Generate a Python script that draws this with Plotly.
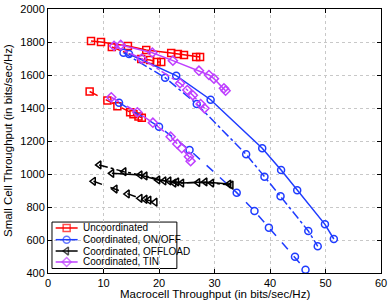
import plotly.graph_objects as go

# Uncoordinated (red squares)
unc_solid_x = [7.75, 9.55, 14.4, 17.7, 22.2, 23.4, 24.5, 26.7, 27.4]
unc_solid_y = [1806, 1800, 1776, 1752, 1733, 1727, 1721, 1709, 1709]
unc_dd_x = [11.5, 16.8, 18.4, 19.6, 20.4]
unc_dd_y = [1770, 1697, 1691, 1679, 1679]
unc_dash_x = [7.5, 10.7, 12.5, 14.8, 15.4, 16.3, 16.9]
unc_dash_y = [1500, 1445, 1410, 1374, 1362, 1349, 1341]

# Coordinated, ON/OFF (blue circles)
on_solid_x = [14.6, 23.1, 29.3, 38.6, 42.0, 44.9, 49.9, 51.5]
on_solid_y = [1727, 1596, 1450, 1156, 1024, 901, 695, 606]
on_dd_x = [13.6, 21.1, 26.8, 35.7, 39.0, 41.9, 46.9, 48.6]
on_dd_y = [1735, 1584, 1424, 1119, 984, 865, 655, 562]
on_dash_x = [12.8, 20.0, 25.5, 34.0, 37.2, 39.8, 44.5, 46.4]
on_dash_y = [1432, 1287, 1146, 887, 776, 675, 499, 420]

# Coordinated, OFFLOAD (black left triangles)
off_solid_x = [11.5, 16.6, 19.8, 21.8, 23.2, 24.1, 28.3, 32.6]
off_solid_y = [1004, 994, 964, 958, 952, 945, 952, 939]
off_dd_x = [9.2, 13.7, 17.5, 20.9, 22.7, 27.0, 29.5, 33.0]
off_dd_y = [1055, 1014, 988, 958, 945, 948, 945, 933]
off_dash_x = [8.2, 12.1, 14.3, 16.6, 17.5, 18.2, 19.3]
off_dash_y = [956, 909, 879, 853, 847, 841, 829]

# Coordinated, TIN (purple diamonds)
tin_solid_x = [13.1, 18.8, 22.5, 27.2, 29.0, 29.9, 31.7, 32.0]
tin_solid_y = [1782, 1735, 1687, 1626, 1600, 1578, 1519, 1505]
tin_dd_x = [11.9, 16.9, 23.8, 25.1, 26.1, 27.5, 28.2]
tin_dd_y = [1776, 1699, 1550, 1509, 1477, 1424, 1398]
tin_dash_x = [11.4, 16.1, 18.9, 22.1, 23.3, 24.1, 25.4, 25.7]
tin_dash_y = [1465, 1374, 1311, 1226, 1182, 1156, 1105, 1078]

x_ticks = [0, 10, 20, 30, 40, 50, 60]
y_ticks = [400, 600, 800, 1000, 1200, 1400, 1600, 1800, 2000]
legend_labels = ["Uncoordinated", "Coordinated, ON/OFF",
                 "Coordinated, OFFLOAD", "Coordinated, TIN"]

RED = "#FF0000"
BLUE = "#1F3CFF"
BLACK = "#000000"
PURPLE = "#BF40FF"
FONT = "Liberation Sans, Arial, sans-serif"

series = [
    (legend_labels[0], RED, "square-open", [
        (unc_solid_x, unc_solid_y, "solid"),
        (unc_dd_x, unc_dd_y, "dashdot"),
        (unc_dash_x, unc_dash_y, "dash")]),
    (legend_labels[1], BLUE, "circle-open", [
        (on_solid_x, on_solid_y, "solid"),
        (on_dd_x, on_dd_y, "dashdot"),
        (on_dash_x, on_dash_y, "dash")]),
    (legend_labels[2], BLACK, "triangle-left-open", [
        (off_solid_x, off_solid_y, "solid"),
        (off_dd_x, off_dd_y, "dashdot"),
        (off_dash_x, off_dash_y, "dash")]),
    (legend_labels[3], PURPLE, "diamond-open", [
        (tin_solid_x, tin_solid_y, "solid"),
        (tin_dd_x, tin_dd_y, "dashdot"),
        (tin_dash_x, tin_dash_y, "dash")]),
]

fig = go.Figure()
for name, color, sym, lines in series:
    for xs, ys, dash in lines:
        fig.add_trace(go.Scatter(
            x=xs, y=ys, mode="lines+markers", name=name, showlegend=False,
            line=dict(color=color, width=1.5, dash=dash),
            marker=dict(symbol=sym, size=7, color=color,
                        line=dict(color=color, width=1.5)),
        ))

# Compact MATLAB-style legend drawn on an overlay axis (0..1 = plot area)
leg_left, leg_right, leg_bottom, leg_top = 0.012, 0.387, 0.017, 0.193
leg_rows = [0.1705, 0.1262, 0.0833, 0.0417]
for (name, color, sym, _), ly in zip(series, leg_rows):
    fig.add_trace(go.Scatter(
        x=[0.023, 0.056, 0.089], y=[ly, ly, ly], xaxis="x2", yaxis="y2",
        mode="lines+markers", showlegend=False, hoverinfo="skip",
        line=dict(color=color, width=1.5),
        marker=dict(symbol=sym, size=[0, 7, 0], color=color,
                    line=dict(color=color, width=1.5)),
    ))
    fig.add_annotation(x=0.099, y=ly, xref="paper", yref="paper",
                       text=name, showarrow=False, xanchor="left",
                       yanchor="middle",
                       font=dict(family=FONT, size=10, color="black"))
fig.add_shape(type="rect", xref="paper", yref="paper",
              x0=leg_left, x1=leg_right, y0=leg_bottom, y1=leg_top,
              line=dict(color="black", width=1), fillcolor="white",
              layer="between")

axis_common = dict(
    showgrid=True, gridcolor="#C8C8C8", griddash="dot", gridwidth=1,
    zeroline=False, showline=True, linecolor="black", linewidth=1,
    mirror="allticks", ticks="inside", ticklen=4, tickcolor="black",
    automargin=False,
    tickfont=dict(family=FONT, size=11, color="black"),
)

fig.update_xaxes(range=[0, 60], tickvals=x_ticks, **axis_common)
fig.update_yaxes(range=[400, 2000], tickvals=y_ticks, **axis_common)

fig.update_layout(
    width=390, height=302,
    margin=dict(l=48, r=9, t=9, b=29),
    paper_bgcolor="white", plot_bgcolor="white",
    showlegend=False,
    xaxis2=dict(overlaying="x", range=[0, 1], visible=False),
    yaxis2=dict(overlaying="y", range=[0, 1], visible=False),
)

fig.add_annotation(text="Macrocell Throughput (in bits/sec/Hz)",
                   xref="paper", yref="paper", x=0.5, y=-0.0795,
                   yanchor="middle", showarrow=False,
                   font=dict(family=FONT, size=11.5, color="black"))
fig.add_annotation(text="Small Cell Throughput (in bits/sec/Hz)",
                   xref="paper", yref="paper", x=-0.12, y=0.5,
                   textangle=-90, xanchor="center", yanchor="middle",
                   showarrow=False,
                   font=dict(family=FONT, size=11.5, color="black"))

fig.write_html("out.html",
               config={"displayModeBar": False},
               post_script="document.body.style.margin='0px';"
                           "document.body.style.overflow='hidden';")
